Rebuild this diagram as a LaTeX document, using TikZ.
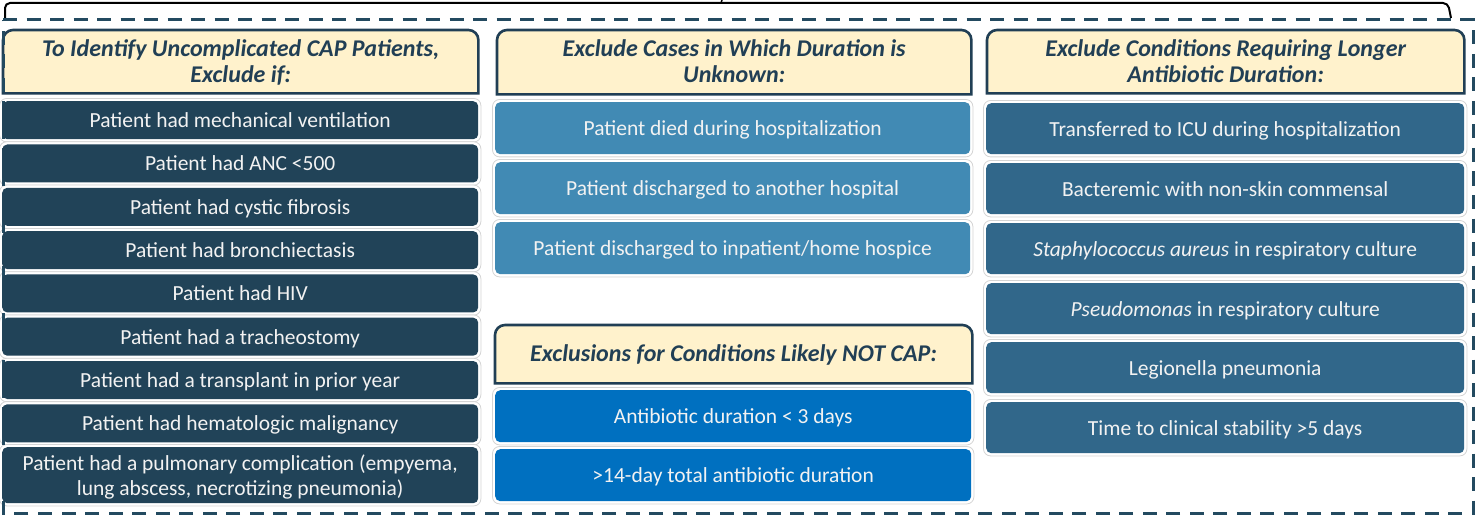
\documentclass[tikz,border=0pt]{standalone}
\usepackage{fontspec}
\setmainfont{Carlito}
\usetikzlibrary{fit,backgrounds}
\definecolor{navy}{HTML}{213F55}
\definecolor{dashc}{HTML}{234A60}
\definecolor{cream}{HTML}{FFF2CC}
\definecolor{leftc}{HTML}{214358}
\definecolor{midc}{HTML}{418AB4}
\definecolor{lowc}{HTML}{0070C0}
\definecolor{rightc}{HTML}{31678A}
\definecolor{haloc}{HTML}{D4D4D4}
\definecolor{txtc}{HTML}{F2F2F2}
\tikzset{
  itembox/.style={rounded corners=5pt, draw=none, text=txtc, align=center, inner sep=0pt,
    text depth=0pt, font=\fontsize{21.5}{25}\selectfont},
  halobox/.style={draw=haloc, line width=0.8pt, fill=white, rounded corners=7pt, inner sep=2.5pt},
  hdrbox/.style={draw=none, text=navy, align=center, inner sep=0pt, text depth=2pt,
    font=\fontsize{24}{26}\selectfont\bfseries\itshape},
  hdrframe/.style={draw=navy, fill=cream, line width=2.6pt},
}
\newcommand\ibox[7]{%
  \node[itembox, fill=#2, minimum width=#5pt, minimum height=#6pt, anchor=north west] (#1) at (#3,#4) {#7};
  \begin{pgfonlayer}{background}\node[halobox, fit=(#1)] {};\end{pgfonlayer}}
\newcommand\hdr[6]{%
  \node[hdrbox, minimum width=#4pt, minimum height=#5pt, anchor=north west] (#1) at (#2,#3) {#6};
  \begin{pgfonlayer}{background}
  \draw[hdrframe] (#1.south west) [rounded corners=10pt] -- (#1.north west) -- (#1.north east) [sharp corners] -- (#1.south east) -- cycle;
  \end{pgfonlayer}}
\begin{document}
\begin{tikzpicture}[x=1pt, y=-1pt]
\useasboundingbox (0,0) rectangle (1476,516);
% brace
\draw[line width=2pt, rounded corners=5pt] (5,18) -- (5,3) -- (1448,3) -- (1451,18);
\draw[line width=1.5pt] (721,3) -- (722,0);
% dashed frame
\draw[dashc, line width=3pt, dash pattern=on 14pt off 9.5pt] (3,20) -- (1473,20) -- (1473,513) -- (3,513) -- cycle;
% left column
\hdr{hL}{3}{30}{475}{63}{To Identify Uncomplicated CAP Patients,\\Exclude if:}
\ibox{l1}{leftc}{2}{101}{476}{38}{Patient had mechanical ventilation}
\ibox{l2}{leftc}{2}{144.3}{476}{38}{Patient had ANC <500}
\ibox{l3}{leftc}{2}{187.6}{476}{38}{Patient had cystic fibrosis}
\ibox{l4}{leftc}{2}{230.9}{476}{38}{Patient had bronchiectasis}
\ibox{l5}{leftc}{2}{274.2}{476}{38}{Patient had HIV}
\ibox{l6}{leftc}{2}{317.5}{476}{38}{Patient had a tracheostomy}
\ibox{l7}{leftc}{2}{360.8}{476}{38}{Patient had a transplant in prior year}
\ibox{l8}{leftc}{2}{404.1}{476}{38}{Patient had hematologic malignancy}
\ibox{l9}{leftc}{2}{447}{476}{56}{Patient had a pulmonary complication (empyema,\\lung abscess, necrotizing pneumonia)}
% middle column
\hdr{hM}{497}{30}{474}{64}{Exclude Cases in Which Duration is\\Unknown:}
\ibox{m1}{midc}{495}{102}{475}{52}{Patient died during hospitalization}
\ibox{m2}{midc}{495}{162}{475}{52}{Patient discharged to another hospital}
\ibox{m3}{midc}{495}{222}{475}{52}{Patient discharged to inpatient/home hospice}
\hdr{hN}{495}{325}{477}{58}{Exclusions for Conditions Likely NOT CAP:}
\ibox{n1}{lowc}{495}{390}{476}{52}{Antibiotic duration < 3 days}
\ibox{n2}{lowc}{495}{449}{476}{52}{>14-day total antibiotic duration}
% right column
\hdr{hR}{987}{30}{477}{63}{Exclude Conditions Requiring Longer\\Antibiotic Duration:}
\ibox{r1}{rightc}{986}{103}{478}{51}{Transferred to ICU during hospitalization}
\ibox{r2}{rightc}{986}{163}{478}{51}{Bacteremic with non-skin commensal}
\ibox{r3}{rightc}{986}{223}{478}{51}{\textit{Staphylococcus aureus} in respiratory culture}
\ibox{r4}{rightc}{986}{283}{478}{51}{\textit{Pseudomonas} in respiratory culture}
\ibox{r5}{rightc}{986}{342}{478}{51}{Legionella pneumonia}
\ibox{r6}{rightc}{986}{402}{478}{51}{Time to clinical stability >5 days}
\end{tikzpicture}
\end{document}
